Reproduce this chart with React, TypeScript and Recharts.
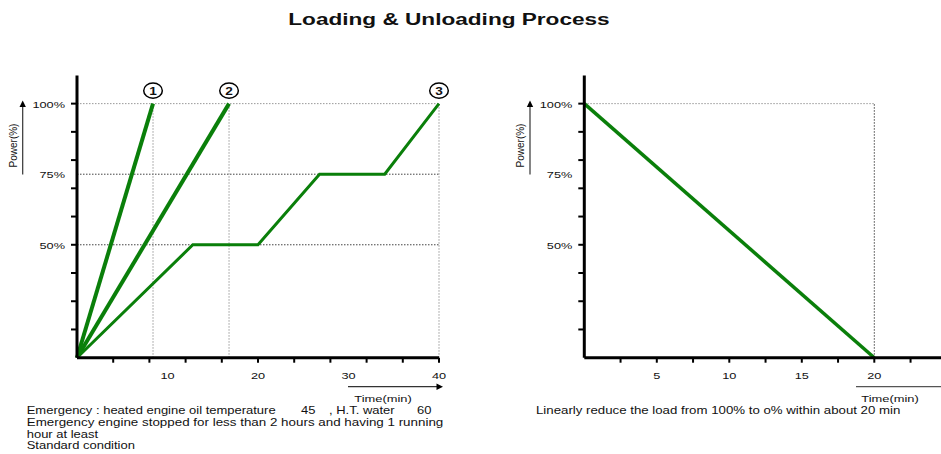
import React from 'react';
import { LineChart, Line, XAxis, YAxis, ReferenceLine, ReferenceDot } from 'recharts';

// ---- data ----
const curve1Time = [0, 8.4];
const curve1Power = [10, 100];
const curve2Time = [0, 16.8];
const curve2Power = [10, 100];
const curve3Time = [0, 12.8, 20, 26.8, 34, 40];
const curve3Power = [10, 50, 50, 75, 75, 100];
const unloadTime = [0, 20];
const unloadPower = [100, 10];

const markerLabels = ['1', '2', '3'];
const markerTimes = [8.4, 16.8, 40];
const markerPower = 104.6;

const powerTickMarks = [20, 30, 40, 50, 60, 70, 80, 90, 100];
const powerTickLabels = [50, 75, 100];
const loadTimeTickMarks = [4, 8, 12, 16, 20, 24, 28, 32, 36, 40];
const loadTimeTickLabels = [10, 20, 30, 40];
const unloadTimeTickMarks = [2.5, 5, 7.5, 10, 12.5, 15, 17.5, 20, 22.5];
const unloadTimeTickLabels = [5, 10, 15, 20];

const GREEN = '#0a7f0a';
const FONT = '"Liberation Sans", Arial, sans-serif';
const SX = 1.3; // horizontal stretch of the reference lettering

const rows = (xs: number[], ys: number[]) => xs.map((t, i) => ({ t, p: ys[i] }));
const union = (a: number[], b: number[]) => Array.from(new Set([...a, ...b])).sort((m, n) => m - n);

const ST = (props: {
  x: number;
  y: number;
  size: number;
  anchor?: 'start' | 'middle' | 'end';
  bold?: boolean;
  baseline?: string;
  children: React.ReactNode;
}) => (
  <text
    transform={`translate(${props.x} ${props.y}) scale(${SX} 1)`}
    textAnchor={props.anchor || 'start'}
    dominantBaseline={props.baseline as any}
    fontSize={props.size}
    fontFamily={FONT}
    fontWeight={props.bold ? 'bold' : 'normal'}
    fill="#111"
    style={{ whiteSpace: 'pre' }}
  >
    {props.children}
  </text>
);

const makeXTick = (marks: number[], labels: number[]) => (props: any) => {
  const { x, y, payload } = props;
  const v = payload.value;
  return (
    <g>
      {marks.includes(v) && <line x1={x} x2={x} y1={y} y2={y + 5} stroke="#000" strokeWidth={2} />}
      {labels.includes(v) && (
        <ST x={x} y={y + 17.5} size={9.8} anchor="middle" baseline="central">
          {v}
        </ST>
      )}
    </g>
  );
};

const YTick = (props: any) => {
  const { x, y, payload } = props;
  const v = payload.value;
  return (
    <g>
      {powerTickMarks.includes(v) && <line x1={x - 6} x2={x} y1={y} y2={y} stroke="#000" strokeWidth={2} />}
      {powerTickLabels.includes(v) && (
        <ST x={x - 12} y={y + 0.5} size={9.8} anchor="end" baseline="central">
          {v + '%'}
        </ST>
      )}
    </g>
  );
};

const Marker = (label: string) => (props: any) => {
  const { cx, cy } = props;
  return (
    <g>
      <ellipse cx={cx} cy={cy} rx={9.3} ry={7.6} fill="#fff" stroke="#000" strokeWidth={1.5} />
      <ST x={cx} y={cy + 0.6} size={10.5} anchor="middle" baseline="central" bold>
        {label}
      </ST>
    </g>
  );
};

const dotted = { stroke: '#444', strokeWidth: 1, strokeDasharray: '1.5 1.5' };
const dottedLight = { stroke: '#999', strokeWidth: 1, strokeDasharray: '1.5 1.5' };
const axisLine = { stroke: '#000', strokeWidth: 3 };

export default function App() {
  return (
    <div style={{ position: 'absolute', left: 0, top: 0, width: 941, height: 454, background: '#fff', overflow: 'hidden' }}>
      <div style={{ position: 'absolute', left: 0, top: 0 }}>
        <LineChart width={470} height={400} margin={{ top: 75.4, right: 31, bottom: 12.3, left: 17 }}>
          <XAxis
            dataKey="t"
            type="number"
            domain={[0, 40]}
            ticks={union(loadTimeTickMarks, loadTimeTickLabels)}
            interval={0}
            tickLine={false}
            tickSize={0}
            tickMargin={0}
            axisLine={axisLine}
            height={30}
            tick={makeXTick(loadTimeTickMarks, loadTimeTickLabels)}
          />
          <YAxis
            dataKey="p"
            type="number"
            domain={[10, 110]}
            ticks={union(powerTickMarks, powerTickLabels)}
            interval={0}
            tickLine={false}
            tickSize={0}
            tickMargin={0}
            axisLine={axisLine}
            width={60}
            tick={YTick}
          />
          <ReferenceLine y={100} {...dottedLight} />
          <ReferenceLine y={75} {...dotted} />
          <ReferenceLine y={50} {...dotted} />
          {markerTimes.map((t, i) => (
            <ReferenceLine key={'v' + i} segment={[{ x: t, y: 10 }, { x: t, y: 100 }]} {...dottedLight} />
          ))}
          <Line data={rows(curve1Time, curve1Power)} dataKey="p" stroke={GREEN} strokeWidth={4} dot={false} isAnimationActive={false} />
          <Line data={rows(curve2Time, curve2Power)} dataKey="p" stroke={GREEN} strokeWidth={4} dot={false} isAnimationActive={false} />
          <Line data={rows(curve3Time, curve3Power)} dataKey="p" stroke={GREEN} strokeWidth={3} dot={false} isAnimationActive={false} />
          {markerTimes.map((t, i) => (
            <ReferenceDot key={'m' + i} x={t} y={markerPower} r={8} ifOverflow="visible" shape={Marker(markerLabels[i])} />
          ))}
        </LineChart>
      </div>

      <div style={{ position: 'absolute', left: 470, top: 0 }}>
        <LineChart width={471} height={400} margin={{ top: 75.4, right: 0, bottom: 12.3, left: 54.3 }}>
          <XAxis
            dataKey="t"
            type="number"
            domain={[0, 24.6]}
            ticks={union(unloadTimeTickMarks, unloadTimeTickLabels)}
            interval={0}
            tickLine={false}
            tickSize={0}
            tickMargin={0}
            axisLine={axisLine}
            height={30}
            tick={makeXTick(unloadTimeTickMarks, unloadTimeTickLabels)}
          />
          <YAxis
            dataKey="p"
            type="number"
            domain={[10, 110]}
            ticks={union(powerTickMarks, powerTickLabels)}
            interval={0}
            tickLine={false}
            tickSize={0}
            tickMargin={0}
            axisLine={axisLine}
            width={60}
            tick={YTick}
          />
          <ReferenceLine segment={[{ x: 0, y: 100 }, { x: 20, y: 100 }]} {...dottedLight} />
          <ReferenceLine segment={[{ x: 20, y: 10 }, { x: 20, y: 100 }]} {...dotted} />
          <Line data={rows(unloadTime, unloadPower)} dataKey="p" stroke={GREEN} strokeWidth={3.5} dot={false} isAnimationActive={false} />
        </LineChart>
      </div>

      <svg width={941} height={454} style={{ position: 'absolute', left: 0, top: 0, pointerEvents: 'none' }}>
        {/* title */}
        <ST x={449} y={25} size={17.4} anchor="middle" bold>
          Loading &amp; Unloading Process
        </ST>

        {/* left chart power label and arrow */}
        <text x={13.5} y={145.5} transform="rotate(-90 13.5 145.5)" textAnchor="middle" dominantBaseline="central" fontSize={10} fontFamily={FONT} fill="#111">
          Power(%)
        </text>
        <line x1={22.7} x2={22.7} y1={174.5} y2={106} stroke="#333" strokeWidth={1.2} />
        <polygon points="22.7,100.5 19.5,107 25.9,107" fill="#000" />
        {/* left time arrow */}
        <line x1={348} x2={437} y1={386.7} y2={386.7} stroke="#333" strokeWidth={1.2} />
        <polygon points="443,386.7 436.5,383.5 436.5,389.9" fill="#000" />
        <ST x={383} y={401.5} size={9.9} anchor="middle">
          Time(min)
        </ST>

        {/* right chart power label and arrow */}
        <text x={520.5} y={145.5} transform="rotate(-90 520.5 145.5)" textAnchor="middle" dominantBaseline="central" fontSize={10} fontFamily={FONT} fill="#111">
          Power(%)
        </text>
        <line x1={530} x2={530} y1={174.5} y2={106} stroke="#333" strokeWidth={1.2} />
        <polygon points="530,100.5 526.8,107 533.2,107" fill="#000" />
        <line x1={856} x2={941} y1={386.7} y2={386.7} stroke="#555" strokeWidth={1.2} />
        <ST x={890} y={401.5} size={9.9} anchor="middle">
          Time(min)
        </ST>

        {/* notes */}
        <ST x={26.7} y={414} size={10}>Emergency : heated engine oil temperature</ST>
        <ST x={301} y={414} size={10}>45</ST>
        <ST x={329} y={414} size={10}>, H.T. water</ST>
        <ST x={417} y={414} size={10}>60</ST>
        <ST x={26.7} y={425.8} size={10.3}>Emergency engine stopped for less than 2 hours and having 1 running</ST>
        <ST x={26.7} y={437.6} size={10}>hour at least</ST>
        <ST x={26.7} y={449.3} size={10}>Standard condition</ST>

        <ST x={536} y={414} size={10.2}>Linearly reduce the load from 100% to o% within about 20 min</ST>
      </svg>
    </div>
  );
}
